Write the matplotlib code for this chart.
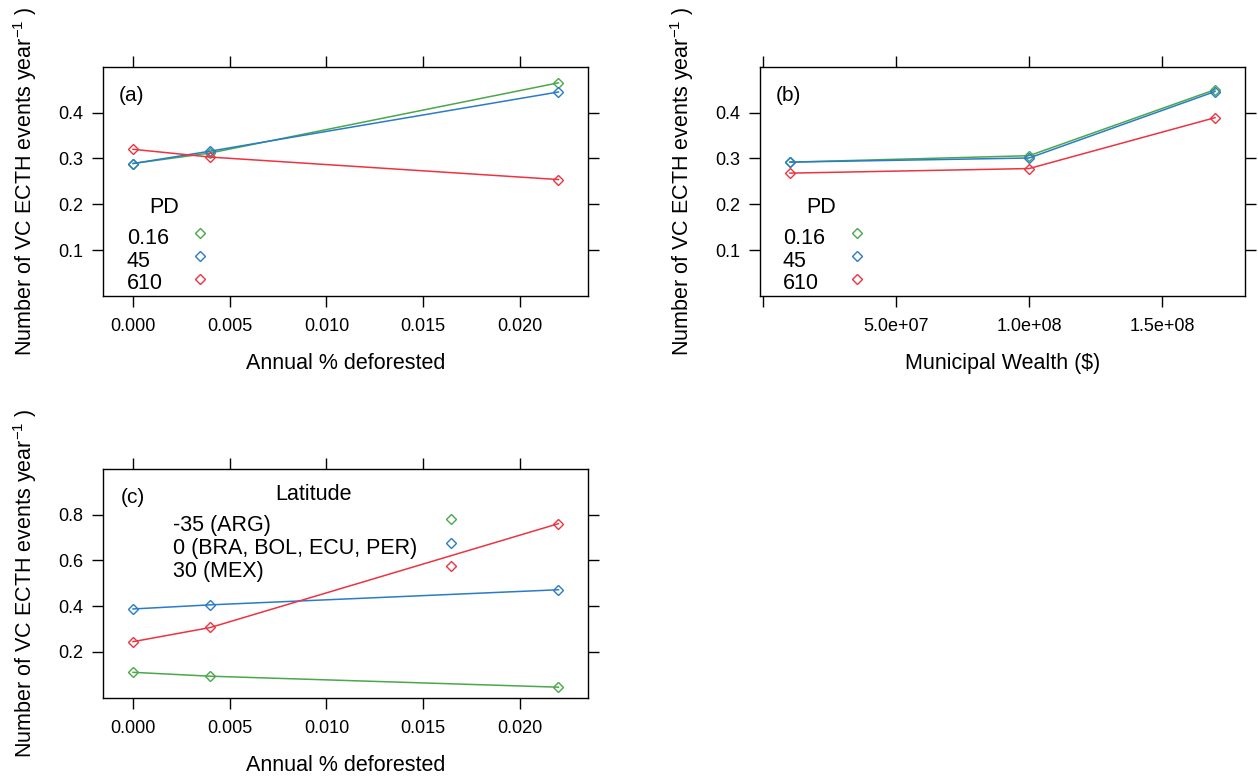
import numpy as np
import matplotlib
matplotlib.use("Agg")
from matplotlib import pyplot as plt

plt.rcParams['font.family'] = ['Liberation Sans', 'DejaVu Sans']
plt.rcParams['mathtext.fontset'] = 'custom'
plt.rcParams['mathtext.rm'] = 'Liberation Sans'
plt.rcParams['mathtext.it'] = 'Liberation Sans'

# ---- data ----
deforest = [0.0, 0.004, 0.022]
wealth = [1.0e7, 1.0e8, 1.7e8]

pd_levels = ['0.16', '45', '610']
a_pd_016 = [0.289, 0.312, 0.465]
a_pd_45 = [0.289, 0.316, 0.445]
a_pd_610 = [0.320, 0.303, 0.254]

b_pd_016 = [0.292, 0.306, 0.450]
b_pd_45 = [0.292, 0.301, 0.446]
b_pd_610 = [0.268, 0.278, 0.389]

lat_levels = ['-35 (ARG)', '0 (BRA, BOL, ECU, PER)', '30 (MEX)']
c_lat_m35 = [0.111, 0.094, 0.046]
c_lat_0 = [0.388, 0.406, 0.472]
c_lat_30 = [0.245, 0.307, 0.761]

deforest_ticks = [0.0, 0.005, 0.010, 0.015, 0.020]
deforest_ticklabels = ['0.000', '0.005', '0.010', '0.015', '0.020']
wealth_ticks = [0.0, 5.0e7, 1.0e8, 1.5e8]
wealth_ticklabels = ['', '5.0e+07', '1.0e+08', '1.5e+08']
y_ticks_ab = [0.1, 0.2, 0.3, 0.4]
y_ticks_c = [0.2, 0.4, 0.6, 0.8]

colors = ['#4aa84a', '#2a7bc8', '#ee3340']
ylab = 'Number of VC ECTH events year$^{-1}$ )'

FS = 15.5
TICK_FS = 13


def style_axes(ax, xticks, xticklabels, yticks, xlim, ylim):
    ax.set_xlim(xlim)
    ax.set_ylim(ylim)
    ax.set_xticks(xticks)
    ax.set_xticklabels(xticklabels)
    ax.set_yticks(yticks)
    ax.set_yticklabels(['%.1f' % v for v in yticks])
    ax.tick_params(direction='out', length=8, width=1.0, top=True, right=True,
                   labeltop=False, labelright=False, labelsize=TICK_FS, colors='black')
    ax.tick_params(axis='x', pad=8)
    ax.tick_params(axis='y', pad=6.5)
    for s in ax.spines.values():
        s.set_linewidth(1.0)
        s.set_color('black')


def add_key(ax, title, labels, title_x, title_y, text_x, text_ys, mark_x, mark_ys):
    ax.text(title_x, title_y, title, transform=ax.transAxes, fontsize=FS,
            ha='center', va='baseline')
    for lab, ty, my, c in zip(labels, text_ys, mark_ys, colors):
        ax.text(text_x, ty, lab, transform=ax.transAxes, fontsize=FS,
                ha='left', va='baseline')
        ax.plot([mark_x], [my], transform=ax.transAxes, ls='none', marker='D',
                ms=5, mfc='none', mec=c, mew=1.0, clip_on=False)


def draw_series(ax, x, series):
    for vals, c in zip(series, colors):
        ax.plot(x, vals, color=c, lw=1.1, marker='D', ms=5, mfc='none', mec=c, mew=1.0)


fig = plt.figure(figsize=(12.58, 7.78), dpi=100)
ax_a = fig.add_axes([0.0821, 0.6195, 0.3855, 0.2947])
ax_b = fig.add_axes([0.6043, 0.6195, 0.3852, 0.2947])
ax_c = fig.add_axes([0.0821, 0.1032, 0.3855, 0.2940])

xlim_def = (-0.00154, 0.02354)
xlim_w = (1.0e7 - 0.07 * 1.6e8, 1.7e8 + 0.07 * 1.6e8)

# (a)
draw_series(ax_a, deforest, [a_pd_016, a_pd_45, a_pd_610])
style_axes(ax_a, deforest_ticks, deforest_ticklabels, y_ticks_ab, xlim_def, (0.0, 0.5))
ax_a.text(0.031, 0.850, '(a)', transform=ax_a.transAxes, fontsize=15, va='baseline')
add_key(ax_a, 'PD', pd_levels, 0.1258, 0.3607, 0.0482, [0.2268, 0.1287, 0.0305],
        0.1994, [0.2734, 0.1744, 0.0741])
ax_a.set_xlabel('Annual % deforested', fontsize=FS)

# (b)
draw_series(ax_b, wealth, [b_pd_016, b_pd_45, b_pd_610])
style_axes(ax_b, wealth_ticks, wealth_ticklabels, y_ticks_ab, xlim_w, (0.0, 0.5))
ax_b.text(0.032, 0.850, '(b)', transform=ax_b.transAxes, fontsize=15, va='baseline')
add_key(ax_b, 'PD', pd_levels, 0.1259, 0.3607, 0.0465, [0.2268, 0.1287, 0.0305],
        0.199, [0.2734, 0.1744, 0.0741])
ax_b.set_xlabel('Municipal Wealth ($)', fontsize=FS)

# (c)
draw_series(ax_c, deforest, [c_lat_m35, c_lat_0, c_lat_30])
style_axes(ax_c, deforest_ticks, deforest_ticklabels, y_ticks_c, xlim_def, (0.0, 1.0))
ax_c.text(0.0355, 0.850, '(c)', transform=ax_c.transAxes, fontsize=15, va='baseline')
add_key(ax_c, 'Latitude', lat_levels, 0.434, 0.8644, 0.1445, [0.7289, 0.6283, 0.5278],
        0.717, [0.780, 0.6777, 0.5759])
ax_c.set_xlabel('Annual % deforested', fontsize=FS)

for ax, h in [(ax_a, 229.3), (ax_b, 229.3), (ax_c, 228.7)]:
    ax.set_ylabel(ylab, fontsize=FS)
    ax.yaxis.label.set_va('center')
    ax.yaxis.set_label_coords(-78.0 / 485.0, 0.5)
    ax.xaxis.label.set_va('center')
    ax.xaxis.set_label_coords(0.5, -67.3 / h)

fig.savefig('out.png', dpi=100)
